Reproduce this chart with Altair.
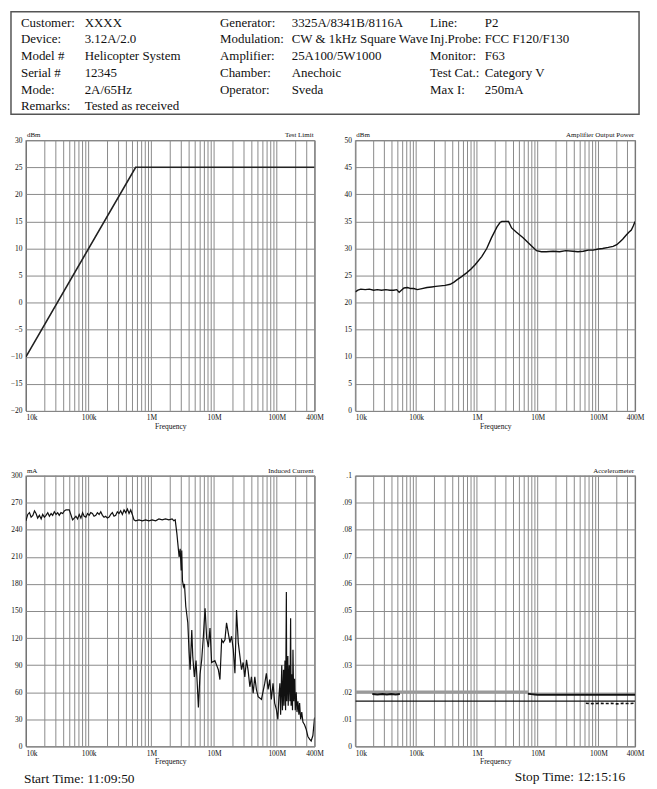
import altair as alt
import pandas as pd

FONT = "Liberation Serif"

# ---------------- header text ----------------
hdr_labels_1 = ["Customer:", "Device:", "Model #", "Serial #", "Mode:", "Remarks:"]
hdr_values_1 = ["XXXX", "3.12A/2.0", "Helicopter System", "12345", "2A/65Hz", "Tested as received"]
hdr_labels_2 = ["Generator:", "Modulation:", "Amplifier:", "Chamber:", "Operator:"]
hdr_values_2 = ["3325A/8341B/8116A", "CW & 1kHz Square Wave", "25A100/5W1000", "Anechoic", "Sveda"]
hdr_labels_3 = ["Line:", "Inj.Probe:", "Monitor:", "Test Cat.:", "Max I:"]
hdr_values_3 = ["P2", "FCC F120/F130", "F63", "Category V", "250mA"]

start_time = "Start Time: 11:09:50"
stop_time = "Stop Time: 12:15:16"

# ---------------- x axis ----------------
x_tick_values = [1e4, 1e5, 1e6, 1e7, 1e8, 4e8]
x_tick_labels = ["10k", "100k", "1M", "10M", "100M", "400M"]

# ---------------- Test Limit (dBm) ----------------
limit_freq = [1.0e4, 5.62e5, 4.0e8]
limit_dbm = [-10, 25, 25]

# ---------------- Amplifier Output Power (dBm) ----------------
amp_freq = [1.00e4, 1.10e4, 1.23e4, 1.45e4, 1.70e4, 2.00e4, 2.29e4, 2.70e4, 3.16e4, 3.70e4,
            4.27e4, 4.80e4, 5.25e4, 5.60e4, 6.31e4, 7.20e4, 8.20e4, 9.12e4, 1.05e5, 1.25e5,
            1.51e5, 1.80e5, 2.10e5, 2.51e5, 3.00e5, 3.63e5, 4.20e5, 4.68e5, 5.60e5, 6.76e5,
            8.00e5, 9.33e5, 1.20e6, 1.45e6, 1.74e6, 2.14e6, 2.40e6, 2.57e6, 2.90e6, 3.31e6,
            3.72e6, 4.47e6, 5.75e6, 7.41e6, 9.55e6, 1.15e7, 1.38e7, 1.80e7, 2.29e7, 2.90e7,
            3.80e7, 4.60e7, 5.62e7, 6.80e7, 8.13e7, 1.00e8, 1.17e8, 1.45e8, 1.74e8, 2.00e8,
            2.24e8, 2.50e8, 2.82e8, 3.16e8, 3.47e8, 3.75e8, 4.00e8]
amp_dbm = [22.0, 22.3, 22.5, 22.4, 22.5, 22.3, 22.4, 22.3, 22.4, 22.3,
           22.3, 22.4, 21.9, 22.2, 22.7, 22.8, 22.6, 22.6, 22.4, 22.6,
           22.8, 22.9, 23.0, 23.1, 23.2, 23.4, 23.8, 24.2, 24.8, 25.5,
           26.2, 27.0, 28.5, 30.0, 32.0, 34.0, 34.8, 35.0, 35.0, 35.0,
           33.8, 33.0, 32.0, 30.8, 29.6, 29.4, 29.4, 29.5, 29.4, 29.6,
           29.5, 29.4, 29.5, 29.7, 29.7, 29.9, 30.0, 30.2, 30.4, 30.7,
           31.2, 31.7, 32.4, 33.0, 33.4, 34.2, 35.0]

# ---------------- Induced Current (mA) ----------------
cur_freq = [1.00e4, 1.07e4, 1.14e4, 1.21e4, 1.29e4, 1.37e4, 1.45e4, 1.54e4, 1.64e4, 1.75e4,
            1.85e4, 1.97e4, 2.09e4, 2.23e4, 2.37e4, 2.52e4, 2.67e4, 2.84e4, 3.02e4, 3.21e4,
            3.40e4, 3.62e4, 3.85e4, 4.10e4, 4.35e4, 4.62e4, 4.91e4, 5.20e4, 5.55e4, 5.90e4,
            6.27e4, 6.66e4, 7.08e4, 7.53e4, 8.00e4, 8.50e4, 9.04e4, 9.60e4, 1.02e5, 1.08e5,
            1.15e5, 1.22e5, 1.30e5, 1.38e5, 1.47e5, 1.56e5, 1.66e5, 1.76e5, 1.87e5, 1.99e5,
            2.12e5, 2.25e5, 2.39e5, 2.54e5, 2.70e5, 2.87e5, 3.05e5, 3.24e5, 3.45e5, 3.67e5,
            3.90e5, 4.15e5, 4.41e5, 4.69e5, 4.97e5, 5.28e5, 5.61e5, 6.34e5, 7.16e5, 8.09e5,
            9.14e5, 1.03e6, 1.17e6, 1.32e6, 1.49e6, 1.68e6, 1.90e6, 2.14e6, 2.28e6, 2.40e6,
            2.55e6, 2.77e6, 2.88e6, 2.99e6, 3.05e6, 3.13e6, 3.25e6, 3.37e6, 3.54e6, 3.81e6,
            4.00e6, 4.15e6, 4.41e6, 4.57e6, 4.85e6, 5.16e6, 5.42e6, 5.62e6, 5.97e6, 6.35e6,
            6.75e6, 7.18e6, 7.62e6, 8.11e6, 8.61e6, 9.14e6, 1.03e7, 1.17e7, 1.24e7, 1.32e7,
            1.40e7, 1.49e7, 1.58e7, 1.68e7, 1.79e7, 1.90e7, 2.02e7, 2.15e7, 2.28e7, 2.43e7,
            2.58e7, 2.74e7, 2.91e7, 3.09e7, 3.29e7, 3.49e7, 3.72e7, 3.94e7, 4.20e7, 4.46e7,
            4.73e7, 5.04e7, 5.69e7, 6.43e7, 6.82e7, 7.26e7, 7.71e7, 8.18e7, 8.71e7, 9.25e7,
            9.84e7, 1.04e8, 1.08e8, 1.12e8, 1.15e8, 1.20e8, 1.23e8, 1.28e8, 1.30e8, 1.35e8,
            1.38e8, 1.42e8, 1.44e8, 1.50e8, 1.52e8, 1.58e8, 1.62e8, 1.66e8, 1.69e8, 1.72e8,
            1.78e8, 1.81e8, 1.86e8, 1.92e8, 1.97e8, 2.04e8, 2.10e8, 2.17e8, 2.25e8, 2.31e8,
            2.40e8, 2.50e8, 2.61e8, 2.77e8, 2.94e8, 3.13e8, 3.33e8, 3.53e8, 3.76e8, 4.00e8]
cur_ma = [250, 257, 259, 254, 256, 261, 258, 253, 256, 252,
          257, 254, 256, 259, 255, 258, 256, 260, 257, 259,
          256, 259, 258, 261, 262, 262, 262, 257, 251, 253,
          255, 252, 257, 253, 259, 255, 254, 258, 256, 259,
          258, 255, 256, 259, 257, 260, 256, 254, 255, 253,
          254, 257, 259, 255, 256, 260, 258, 261, 257, 262,
          259, 263, 258, 262, 257, 251, 250, 251, 250, 251,
          250, 251, 250, 252, 251, 252, 251, 252, 250, 251,
          236, 210, 219, 195, 217, 184, 177, 180, 155, 137,
          104, 85, 129, 100, 77, 95, 66, 43, 80, 96,
          122, 153, 120, 110, 131, 93, 95, 85, 74, 118,
          115, 118, 137, 126, 115, 122, 108, 81, 151, 115,
          100, 85, 93, 77, 96, 84, 66, 77, 59, 77,
          63, 55, 52, 70, 81, 63, 74, 52, 70, 48,
          41, 30, 55, 70, 35, 90, 40, 85, 45, 95,
          40, 171, 50, 100, 45, 90, 50, 142, 45, 80,
          40, 107, 50, 75, 40, 60, 38, 50, 35, 48,
          30, 38, 27, 24, 19, 11, 8, 6, 12, 32]

# ---------------- Accelerometer ----------------
acc_band_freq = [1.0e4, 6.9e6]
acc_band_val = [0.0201, 0.0201]
acc_low_freq = [1.9e4, 2.3e4, 2.8e4, 3.3e4, 3.9e4, 4.6e4, 5.4e4]
acc_low_val = [0.0193, 0.0192, 0.0193, 0.0192, 0.0193, 0.0192, 0.0193]
acc_high_freq = [6.9e6, 7.8e6, 8.9e6, 1.0e7, 4.0e8]
acc_high_val = [0.0194, 0.0193, 0.0192, 0.0191, 0.0191]
acc_base_freq = [1.0e4, 4.0e8]
acc_base_val = [0.0167, 0.0167]
acc_dot_freq = [6.2e7, 8.0e7, 1.0e8, 1.3e8, 1.6e8, 2.0e8, 2.5e8, 3.2e8, 4.0e8]
acc_dot_val = [0.0159, 0.0158, 0.0159, 0.0158, 0.0159, 0.0157, 0.0159, 0.0158, 0.0160]

# gridline frequencies (1..9 x each decade inside the domain)
grid_freqs = [m * 10 ** e for e in range(4, 9) for m in range(1, 10) if m * 10 ** e <= 4e8]

GRID = "#8a8a8a"
LBL = 7.5
HDR = 13

x_label_expr = "''"
for v, l in reversed(list(zip(x_tick_values, x_tick_labels))):
    x_label_expr = f"datum.value == {v} ? '{l}' : ({x_label_expr})"


def xaxis():
    return alt.Axis(values=x_tick_values, labelExpr=x_label_expr, grid=False, ticks=False,
                    domain=False, labelFont=FONT, labelFontSize=LBL, labelColor="#111",
                    labelPadding=3, labelOverlap=False,
                    labelAlign={"condition": {"test": "datum.value <= 10000", "value": "left"},
                                "value": "center"},
                    title="Frequency", titleFont=FONT, titleFontSize=LBL,
                    titleFontWeight="normal", titleColor="#111", titlePadding=1)


def xenc():
    return alt.X("f:Q", scale=alt.Scale(type="log", domain=[1e4, 4e8], nice=False), axis=xaxis())


def text_layer(txt, x, y, align, baseline, size, line_height=None):
    kw = {}
    if line_height is not None:
        kw = {"lineBreak": "\n", "lineHeight": line_height}
    return alt.Chart(pd.DataFrame({"t": [txt]})).mark_text(
        align=align, baseline=baseline, font=FONT, fontSize=size, color="#111", **kw).encode(
        x=alt.value(x), y=alt.value(y), text="t:N")


def panel(width, height, ymin, ymax, ystep, yexpr, left_title, right_title, series, extra=()):
    n = int(round((ymax - ymin) / ystep))
    yvals = [round(ymin + i * ystep, 6) for i in range(n + 1)]
    yaxis = alt.Axis(values=yvals, labelExpr=yexpr, grid=True, gridColor=GRID, gridWidth=1,
                     ticks=False, domain=False, labelFont=FONT, labelFontSize=LBL,
                     labelColor="#111", labelPadding=4, labelOverlap=False, title=None)
    yenc = alt.Y("v:Q", scale=alt.Scale(domain=[ymin, ymax], nice=False, zero=False), axis=yaxis)

    layers = [alt.Chart(pd.DataFrame({"f": grid_freqs})).mark_rule(
        color=GRID, strokeWidth=1).encode(x=xenc())]
    for freqs, vals, style in series:
        df = pd.DataFrame({"f": freqs, "v": vals})
        layers.append(alt.Chart(df).mark_line(clip=True, **style).encode(x=xenc(), y=yenc))
    if left_title:
        layers.append(text_layer(left_title, 1, -2, "left", "bottom", 7))
    layers.append(text_layer(right_title, width - 1, -2, "right", "bottom", 7))
    layers.extend(extra)
    return alt.layer(*layers).properties(width=width, height=height)


int_expr = "format(datum.value, 'd')"
acc_expr = "datum.value == 0 ? '0' : replace(format(datum.value, '.2~f'), '0.', '.')"

black = {"color": "#111", "strokeWidth": 1.4}

# header block (drawn above the first panel)
box = alt.Chart(pd.DataFrame({"a": [0]})).mark_rect(
    filled=False, stroke="#555", strokeWidth=1.5).encode(
    x=alt.value(-15), x2=alt.value(616), y=alt.value(-129), y2=alt.value(-26))
header_cols = [(hdr_labels_1, -5), (hdr_values_1, 59), (hdr_labels_2, 195),
               (hdr_values_2, 267), (hdr_labels_3, 406), (hdr_values_3, 461)]
header_layers = [box] + [text_layer("\n".join(t), x, -124, "left", "top", HDR, 16.8)
                         for t, x in header_cols]

p1 = panel(290, 272, -20, 30, 5, int_expr, "dBm", "Test Limit",
           [(limit_freq, limit_dbm, {"color": "#222", "strokeWidth": 1.6})],
           extra=header_layers)
p2 = panel(281, 272, 0, 50, 5, int_expr, "dBm", "Amplifier Output Power",
           [(amp_freq, amp_dbm, black)])
p3 = panel(290, 272, 0, 300, 30, int_expr, "mA", "Induced Current",
           [(cur_freq, cur_ma, {"color": "#111", "strokeWidth": 1.2})],
           extra=[text_layer(start_time, -2, 309, "left", "alphabetic", 13.5)])
p4 = panel(281, 272, 0, 0.1, 0.01, acc_expr, "", "Accelerometer",
           [(acc_band_freq, acc_band_val, {"color": "#9a9a9a", "strokeWidth": 3}),
            (acc_low_freq, acc_low_val, {"color": "#111", "strokeWidth": 2}),
            (acc_high_freq, acc_high_val, {"color": "#111", "strokeWidth": 2}),
            (acc_base_freq, acc_base_val, {"color": "#111", "strokeWidth": 1.2}),
            (acc_dot_freq, acc_dot_val, {"color": "#111", "strokeWidth": 1.6, "strokeDash": [3, 2]})],
           extra=[text_layer(stop_time, 271, 307, "right", "alphabetic", 13.5)])

chart = alt.concat(p1, p2, p3, p4, columns=2,
                   spacing=alt.RowColnumber(row=65, column=41),
                   bounds="flush", align="each").properties(
    padding={"left": 1, "top": 0, "right": 4, "bottom": 0}
).configure(font=FONT, background="white").configure_view(stroke="#555", strokeWidth=1)

chart.save("out.html", embed_options={"renderer": "svg", "actions": False})
